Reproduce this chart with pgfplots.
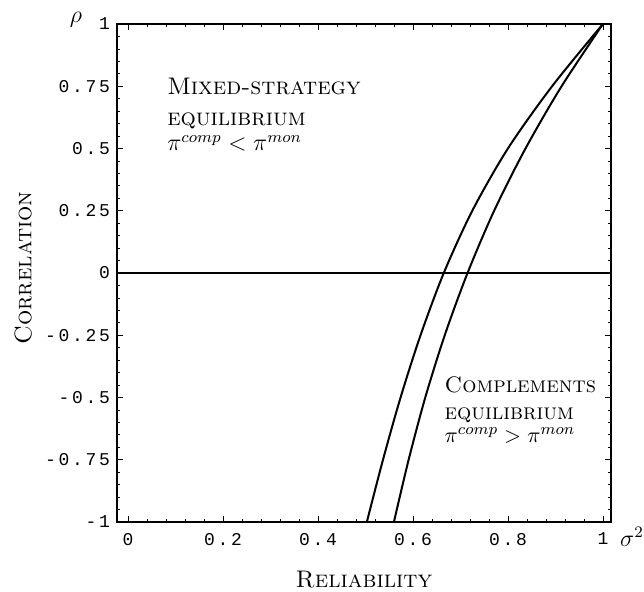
\documentclass[border=0pt]{standalone}
\usepackage{pgfplots}
\pgfplotsset{compat=1.18}
\usepackage{fontspec}
\newfontfamily\tickfont[LetterSpace=15]{Liberation Mono}

\begin{document}
\begin{tikzpicture}
\begin{axis}[
  scale only axis,
  width=247pt, height=249pt,
  xmin=-0.023, xmax=1.017,
  ymin=-1, ymax=1,
  xtick={0,0.2,0.4,0.6,0.8,1},
  xticklabels={0,0.2,0.4,0.6,0.8,1},
  ytick={-1,-0.75,-0.5,-0.25,0,0.25,0.5,0.75,1},
  yticklabels={-1,-0.75,-0.5,-0.25,0,0.25,0.5,0.75,1},
  minor x tick num=4, minor y tick num=4,
  tick align=inside,
  major tick length=3pt, minor tick length=1.5pt,
  tick style={black, line width=0.4pt},
  axis line style={black, line width=0.8pt},
  ticklabel style={font=\tickfont\fontsize{9}{10}\selectfont},
  xticklabel style={yshift=-2pt},
  clip=false,
]
% horizontal reference line at rho = 0
\addplot[black, line width=0.7pt] coordinates {(-0.023,0) (1.017,0)};
% boundaries
\addplot[black, line width=1pt, smooth] coordinates {
  (0.503,-1) (0.537,-0.75) (0.574,-0.5) (0.616,-0.25) (0.665,0)
  (0.725,0.25) (0.800,0.5) (0.893,0.75) (1,1)};
\addplot[black, line width=1pt, smooth] coordinates {
  (0.560,-1) (0.591,-0.75) (0.626,-0.5) (0.667,-0.25) (0.715,0)
  (0.771,0.25) (0.837,0.5) (0.913,0.75) (1,1)};

\begin{scope}[every node/.style={font=\fontsize{12}{14}\selectfont, inner sep=0pt}]
\node[anchor=base west] at (axis cs:0.082,0.715) {\textsc{Mixed-strategy}};
\node[anchor=base west] at (axis cs:0.082,0.594) {\textsc{equilibrium}};
\node[anchor=base west] at (axis cs:0.082,0.49) {$\pi^{comp} < \pi^{mon}$};

\node[anchor=base] at (rel axis cs:0.5,-0.1305) {\textsc{Reliability}};
\node[rotate=90] at (rel axis cs:-0.190,0.51) {\textsc{Correlation}};
\node at (rel axis cs:-0.083,1.008) {$\rho$};
\node at (rel axis cs:1.0425,-0.030) {$\sigma^2$};
\end{scope}
\begin{scope}[every node/.style={font=\fontsize{11.2}{13}\selectfont, inner sep=0pt}]
\node[anchor=base west] at (axis cs:0.666,-0.478) {\textsc{Complements}};
\node[anchor=base west] at (axis cs:0.666,-0.590) {\textsc{equilibrium}};
\node[anchor=base west] at (axis cs:0.666,-0.679) {$\pi^{comp} > \pi^{mon}$};
\end{scope}

\coordinate (bl) at (rel axis cs:-0.2368,-0.1386);
\coordinate (tr) at (rel axis cs:1.0668,1.0482);
\end{axis}
\useasboundingbox (bl) rectangle (tr);
\end{tikzpicture}
\end{document}
